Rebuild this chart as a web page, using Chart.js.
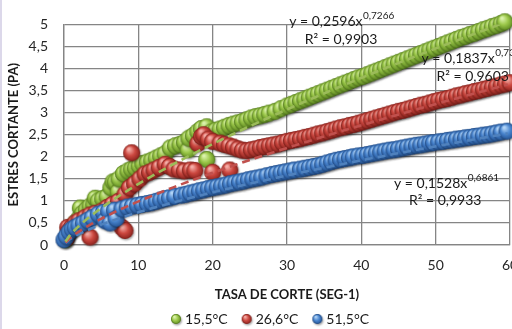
<!DOCTYPE html>
<html>
<head>
<meta charset="utf-8">
<script src="https://cdn.jsdelivr.net/npm/chart.js@4.4.1/dist/chart.umd.min.js"></script>
<style>
  html, body { margin: 0; padding: 0; background: #fff; }
  #wrap { position: relative; width: 512px; height: 329px; overflow: hidden; }
  #edge { position: absolute; left: 0; top: 0; width: 2px; height: 329px; background: #dcd8ea; }
</style>
</head>
<body>
<div id="wrap">
  <canvas id="chart" width="540" height="329"></canvas>
  <div id="edge"></div>
</div>
<script>
// series names
var seriesNames = ['15,5°C', '26,6°C', '51,5°C'];

// [tasa de corte, esfuerzo]
var serie155 = [
  [0.2,0.12],[0.5,0.25],[1,0.38],[1.5,0.5],[2,0.6],[2.2,0.84],[2.5,0.72],[3,0.8],[3.5,0.88],[4,0.92],
  [4.2,1.06],[4.6,1.0],[5.2,1.05],[5.8,1.1],[6.3,1.3],[6.6,1.43],[6.9,1.43],[7.3,1.21],[7.4,1.5],[8,1.62],
  [8.6,1.68],[9.1,1.72],[9.6,1.75],[10.1,1.8],[10.6,1.85],[11.2,1.88],[11.8,1.92],[12.4,1.97],[13,2.02],[13.6,2.07],
  [14.3,2.2],[15,2.25],[15.6,2.28],[16.2,2.33],[16.7,2.16],[16.8,2.42],[17.4,2.48],[18,2.57],[18.5,2.64],[19.2,2.68],
  [19.2,1.94],[19.8,2.56],[20.4,2.6],[21,2.63],[21.6,2.67],[22.2,2.71],[22.8,2.74],[23.4,2.77],[24,2.8],[24.6,2.84],
  [25.2,2.88],[25.8,2.91],[26.4,2.93],[27,2.96],[27.6,2.99],[28.4,3.03],[29.2,3.09],[30,3.15],[30.6,3.19],[31.2,3.23],
  [31.8,3.27],[32.4,3.31],[33,3.35],[33.6,3.39],[34.2,3.43],[34.8,3.47],[35.4,3.51],[36,3.55],[36.6,3.59],[37.2,3.63],
  [37.8,3.67],[38.4,3.71],[39,3.75],[39.6,3.79],[40.2,3.82],[40.8,3.86],[41.4,3.9],[42,3.94],[42.6,3.98],[43.2,4.02],
  [43.8,4.06],[44.4,4.1],[45,4.14],[45.6,4.18],[46.2,4.22],[46.8,4.26],[47.4,4.3],[48,4.34],[48.6,4.38],[49.2,4.42],
  [49.8,4.46],[50.4,4.5],[51,4.54],[51.6,4.58],[52.2,4.62],[52.8,4.66],[53.4,4.7],[54,4.73],[54.6,4.77],[55.2,4.8],
  [55.8,4.84],[56.4,4.88],[57,4.91],[57.6,4.95],[58.2,4.98],[58.8,5.02],[59.3,5.06]
];
var serie266 = [
  [0.3,0.15],[0.5,0.4],[0.6,0.3],[1,0.4],[1.5,0.5],[2,0.55],[2.8,0.62],[3.5,0.18],[3.5,0.68],[4.2,0.72],
  [5.1,0.77],[5.8,0.85],[6.5,0.92],[7.3,0.99],[7.8,0.4],[8.2,0.33],[8.2,1.15],[8.8,1.3],[9.1,2.09],[9.5,1.39],
  [10.2,1.5],[10.9,1.61],[11.5,1.65],[12.1,1.7],[12.8,1.76],[13.6,1.83],[14.2,1.78],[14.8,1.72],[15.5,1.7],[16.2,1.68],
  [17,1.7],[17.6,1.69],[18,2.3],[18.5,2.46],[18.8,2.5],[19.4,2.4],[20,1.65],[20,2.35],[21,2.31],[21.6,2.28],
  [22.2,2.25],[22.3,1.7],[22.8,2.22],[23.4,2.18],[24,2.15],[24.6,2.14],[25.2,2.16],[25.8,2.18],[26.4,2.21],[27,2.23],
  [27.6,2.25],[28.2,2.27],[28.8,2.29],[29.4,2.32],[30,2.35],[30.6,2.37],[31.2,2.39],[31.8,2.41],[32.4,2.44],[33,2.46],
  [33.6,2.49],[34.2,2.52],[34.8,2.54],[35.4,2.57],[36,2.6],[36.6,2.63],[37.2,2.66],[37.8,2.68],[38.4,2.71],[39,2.73],
  [39.6,2.76],[40.2,2.79],[40.8,2.82],[41.4,2.85],[42,2.88],[42.6,2.91],[43.2,2.94],[43.8,2.97],[44.4,3.0],[45,3.03],
  [45.6,3.05],[46.2,3.08],[46.8,3.11],[47.4,3.14],[48,3.17],[48.6,3.19],[49.2,3.22],[49.8,3.25],[50.4,3.28],[51,3.3],
  [51.6,3.32],[52.2,3.35],[52.8,3.38],[53.4,3.4],[54,3.43],[54.6,3.45],[55.2,3.48],[55.8,3.5],[56.4,3.53],[57,3.55],
  [57.6,3.58],[58.2,3.6],[58.8,3.63],[59.4,3.65],[60,3.68]
];
var serie515 = [
  [0,0.12],[0.3,0.2],[0.7,0.3],[1.1,0.36],[1.5,0.4],[2,0.45],[2.6,0.5],[3.2,0.56],[3.8,0.62],[4.6,0.7],
  [5.3,0.74],[5.5,0.55],[6,0.77],[6.2,0.5],[6.8,0.79],[7,0.6],[7.8,0.82],[8.5,0.86],[9.2,0.88],[9.9,0.9],
  [10.5,0.92],[11.2,0.94],[11.8,0.96],[12.4,0.99],[13,1.02],[13.6,1.05],[14.2,1.07],[14.9,1.1],[15.8,1.13],[16.4,1.15],
  [17,1.18],[17.6,1.2],[18.2,1.23],[18.8,1.25],[19.4,1.28],[20,1.3],[20.6,1.32],[21.2,1.34],[21.8,1.36],[22.4,1.39],
  [23,1.41],[23.6,1.43],[24.2,1.45],[24.8,1.48],[25.4,1.5],[26,1.52],[26.6,1.54],[27.3,1.57],[28,1.6],[28.6,1.62],
  [29.2,1.64],[29.8,1.66],[30.4,1.68],[31,1.7],[31.8,1.72],[32.4,1.74],[33,1.76],[33.6,1.78],[34.2,1.8],[34.8,1.83],
  [35.4,1.86],[36,1.89],[36.6,1.92],[37.2,1.94],[37.8,1.96],[38.4,1.98],[38.9,2.0],[39.6,2.02],[40.2,2.03],[40.8,2.05],
  [41.4,2.07],[42,2.09],[42.6,2.11],[43.2,2.13],[43.8,2.15],[44.4,2.16],[45,2.18],[45.6,2.2],[46.2,2.22],[46.8,2.24],
  [47.4,2.26],[48,2.27],[48.6,2.29],[49.2,2.31],[49.7,2.32],[50.4,2.34],[51,2.35],[51.6,2.37],[52.2,2.38],[52.8,2.4],
  [53.4,2.41],[54,2.43],[54.6,2.44],[55.2,2.46],[55.8,2.47],[56.4,2.49],[57,2.5],[57.6,2.52],[58.2,2.54],[58.8,2.56],
  [59.6,2.58]
];

// power trendlines shown on the chart: y = a * x^b
var trendA = [0.2596, 0.1837, 0.1528];
var trendB = [0.7266, 0.73, 0.6861];
var trendText = ['0,2596', '0,1837', '0,1528'];
var trendExp = ['0,7266', '0,73', '0,6861'];
var trendR2 = ['0,9903', '0,9603', '0,9933'];

var xMin = 0, xMax = 60, xStep = 10;
var yMin = 0, yMax = 5, yStep = 0.5;

var light = ['#dcf3ad', '#f6b0aa', '#b4d6f8'];
var mid = ['#9cc84a', '#cc4840', '#4985cf'];
var dark = ['#5a861e', '#86201b', '#22508f'];
var rim = ['rgba(70,100,25,0.45)', 'rgba(110,25,20,0.45)', 'rgba(25,60,110,0.45)'];
var dashColor = ['#9bbb59', '#c0504d', '#4f81bd'];

function makeBall(r, c0, c1, c2, edge) {
  var s = Math.ceil(2 * r + 6);
  var cv = document.createElement('canvas');
  cv.width = s; cv.height = s;
  var g = cv.getContext('2d');
  var cx = s / 2, cy = s / 2;
  g.save();
  g.shadowColor = 'rgba(0,0,0,0.35)';
  g.shadowBlur = 2;
  g.shadowOffsetX = 1;
  g.shadowOffsetY = 1.5;
  var grad = g.createRadialGradient(cx - r * 0.35, cy - r * 0.45, r * 0.1, cx, cy, r * 1.05);
  grad.addColorStop(0, c0);
  grad.addColorStop(0.5, c1);
  grad.addColorStop(1, c2);
  g.fillStyle = grad;
  g.beginPath();
  g.arc(cx, cy, r, 0, Math.PI * 2);
  g.fill();
  g.restore();
  g.strokeStyle = edge;
  g.lineWidth = 0.8;
  g.beginPath();
  g.arc(cx, cy, r - 0.4, 0, Math.PI * 2);
  g.stroke();
  return cv;
}

var balls = [0, 1, 2].map(function (i) { return makeBall(8.5, light[i], mid[i], dark[i], rim[i]); });
var smallBalls = [0, 1, 2].map(function (i) { return makeBall(5, light[i], mid[i], dark[i], rim[i]); });

function trendPoints(i) {
  var pts = [];
  for (var x = 0.2; x <= 60; x += 0.5) pts.push({ x: x, y: trendA[i] * Math.pow(x, trendB[i]) });
  return pts;
}

function toXY(arr) { return arr.map(function (p) { return { x: p[0], y: p[1] }; }); }

var allSeries = [serie155, serie266, serie515];
var datasets = [];
allSeries.forEach(function (s, i) {
  datasets.push({
    label: seriesNames[i],
    data: toXY(s),
    pointStyle: balls[i],
    pointRadius: 8,
    showLine: false,
    clip: false,
    order: 3 - i
  });
});
allSeries.forEach(function (s, i) {
  datasets.push({
    label: 'trend ' + seriesNames[i],
    data: trendPoints(i),
    showLine: true,
    pointRadius: 0,
    borderColor: dashColor[i],
    borderWidth: 2.6,
    borderDash: [8, 5],
    order: 0
  });
});

// where each equation sits, in data units (left edge, middle of line)
var eqPos = [
  { x: 30.3, y: 5.07, rx: 32.4, ry: 4.65 },
  { x: 48.1, y: 4.23, rx: 50.1, ry: 3.83 },
  { x: 44.4, y: 1.39, rx: 46.4, ry: 1.01 }
];

var fontFam = 'Lato, "Open Sans", sans-serif';

var extras = {
  id: 'extras',
  afterDatasetsDraw: function (chart) {
    var ctx = chart.ctx, xs = chart.scales.x, ys = chart.scales.y;
    ctx.save();
    ctx.fillStyle = '#1a1a1a';
    ctx.textBaseline = 'middle';
    ctx.textAlign = 'left';
    eqPos.forEach(function (p, i) {
      var px = xs.getPixelForValue(p.x), py = ys.getPixelForValue(p.y);
      ctx.font = '14px ' + fontFam;
      var main = 'y = ' + trendText[i] + 'x';
      ctx.fillText(main, px, py);
      var w = ctx.measureText(main).width;
      ctx.font = '10px ' + fontFam;
      ctx.fillText(trendExp[i], px + w + 0.5, py - 6);
      ctx.font = '14px ' + fontFam;
      ctx.fillText('R² = ' + trendR2[i], xs.getPixelForValue(p.rx), ys.getPixelForValue(p.ry));
    });
    ctx.restore();
  },
  afterDraw: function (chart) {
    var ctx = chart.ctx;
    ctx.save();
    ctx.font = '14px ' + fontFam;
    ctx.textBaseline = 'middle';
    ctx.fillStyle = '#1a1a1a';
    var gap = 14, ballW = 14;
    var widths = seriesNames.map(function (n) { return ballW + ctx.measureText(n).width; });
    var total = widths.reduce(function (a, b) { return a + b; }, 0) + gap * (seriesNames.length - 1);
    var x = chart.width / 2 - total / 2, y = 319;
    seriesNames.forEach(function (n, i) {
      var b = smallBalls[i];
      ctx.drawImage(b, x + 5 - b.width / 2, y - b.height / 2);
      ctx.fillText(n, x + ballW, y);
      x += widths[i] + gap;
    });
    ctx.restore();
  }
};

function comma(v) { return String(Math.round(v * 10) / 10).replace('.', ','); }

new Chart(document.getElementById('chart'), {
  type: 'scatter',
  data: { datasets: datasets },
  plugins: [extras],
  options: {
    responsive: false,
    animation: false,
    layout: { padding: { left: 0, right: 30, top: 18, bottom: 22 } },
    plugins: { legend: { display: false }, tooltip: { enabled: false } },
    scales: {
      x: {
        type: 'linear', min: xMin, max: xMax,
        afterFit: function (s) { s.height = 62; },
        ticks: { stepSize: xStep, padding: 12, color: '#262626', font: { family: fontFam, size: 14 } },
        grid: { color: '#858585', lineWidth: 1.3, drawTicks: false },
        border: { color: '#858585', width: 1.3 },
        title: { display: true, text: 'TASA DE CORTE (SEG-1)', color: '#1a1a1a', padding: { top: 0, bottom: 4 },
          font: { family: fontFam, size: 13, weight: 'bold' } }
      },
      y: {
        type: 'linear', min: yMin, max: yMax,
        afterFit: function (s) { s.width = 64; },
        ticks: { stepSize: yStep, padding: 16, color: '#262626', font: { family: fontFam, size: 14 },
          callback: function (v) { return comma(v); } },
        grid: { color: '#858585', lineWidth: 1.3, drawTicks: false },
        border: { color: '#858585', width: 1.3 },
        title: { display: true, text: 'ESTRES CORTANTE (PA)', color: '#1a1a1a', padding: { top: 6, bottom: 0 },
          font: { family: fontFam, size: 13, weight: 'bold' } }
      }
    }
  }
});
</script>
</body>
</html>
